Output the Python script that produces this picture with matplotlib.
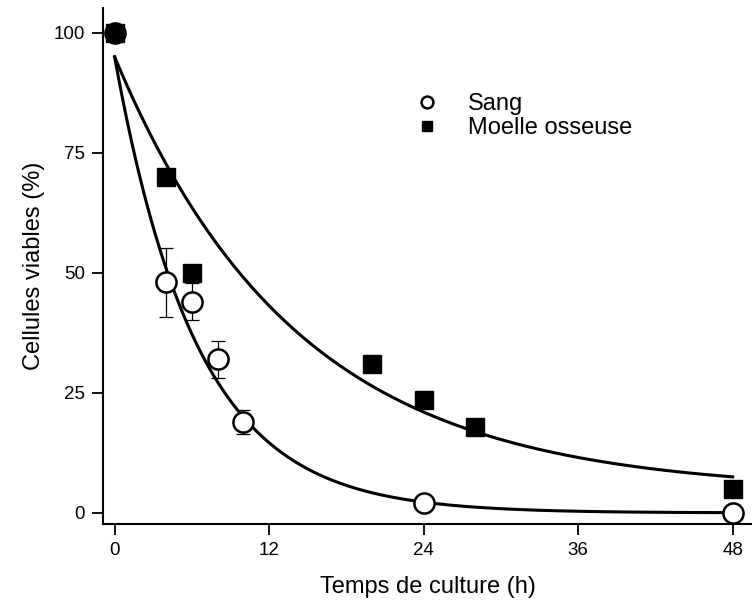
import numpy as np
import matplotlib
matplotlib.use("Agg")
import matplotlib.pyplot as plt
from matplotlib.lines import Line2D

plt.rcParams['font.family'] = ['Liberation Sans', 'DejaVu Sans']

# Sang (cercles)
t_sang = [0, 4, 6, 8, 10, 24, 48]
v_sang = [100, 48, 44, 32, 19, 2, 0]
err_sang = [0, 7.2, 3.8, 3.8, 2.5, 0, 0]

# Moelle osseuse (carres)
t_moelle = [0, 4, 6, 20, 24, 28, 48]
v_moelle = [100, 70, 50, 31, 23.5, 18, 5]

# ajustements exponentiels : y = A*exp(-k*t) + c
fit_sang = (95.0, 0.156, 0.0)
fit_moelle = (90.5, 0.0709, 4.5)

def courbe(p, t):
    a, k, c = p
    return a * np.exp(-k * t) + c

fig = plt.figure(figsize=(7.52, 6.04), dpi=100)
ax = fig.add_axes([0.137, 0.1325, 0.863, 0.8545])

tt = np.linspace(0, 48, 300)
ax.plot(tt, courbe(fit_sang, tt), color='black', lw=2.2, zorder=2)
ax.plot(tt, courbe(fit_moelle, tt), color='black', lw=2.2, zorder=2)

ax.errorbar(t_sang, v_sang, yerr=err_sang, fmt='none', ecolor='black',
            elinewidth=0.9, capsize=5, capthick=0.9, zorder=3)
ax.plot(t_sang, v_sang, 'o', mfc='white', mec='black', mew=1.8, ms=14.5, zorder=4)
ax.plot(t_moelle, v_moelle, 's', color='black', ms=13, zorder=5)

ax.set_xlim(-0.9, 49.5)
ax.set_ylim(-2.3, 105.2)
ax.set_xticks([0, 12, 24, 36, 48])
ax.set_yticks([0, 25, 50, 75, 100])
ax.spines['top'].set_visible(False)
ax.spines['right'].set_visible(False)
ax.spines['left'].set_linewidth(1.5)
ax.spines['bottom'].set_linewidth(1.5)
ax.tick_params(width=1.3, length=8, labelsize=13.5, pad=5)
ax.set_xlabel("Temps de culture (h)", fontsize=17, labelpad=12)
ax.set_ylabel("Cellules viables (%)", fontsize=17, labelpad=6)

handles = [
    Line2D([], [], ls='none', marker='o', mfc='white', mec='black', mew=1.8, ms=8.5),
    Line2D([], [], ls='none', marker='s', color='black', ms=7.5),
]
ax.legend(handles, ["Sang", "Moelle osseuse"], loc='upper left',
          bbox_to_anchor=(0.449, 0.876), frameon=False, fontsize=17,
          handlelength=1.0, handletextpad=1.2, labelspacing=0.1)

fig.savefig("out.png", dpi=100)
